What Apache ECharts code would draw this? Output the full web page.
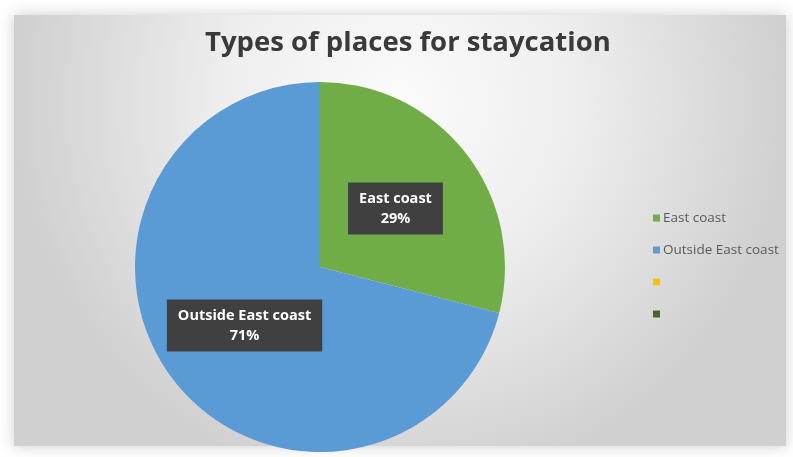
<!DOCTYPE html>
<html><head><meta charset="utf-8">
<script src="https://cdn.jsdelivr.net/npm/echarts@6/dist/echarts.min.js"></script>
<style>html,body{margin:0;padding:0;background:#fff}#c{width:793px;height:457px}</style>
</head><body><div id="c"></div>
<script>
const categories = ['East coast', 'Outside East coast', ' ', '  '];
const values = [29, 71, 0, 0];
const colors = ['#70AD47', '#5B9BD5', '#FFC000', '#43682B'];
const titleText = 'Types of places for staycation';

const chart = echarts.init(document.getElementById('c'));
const data = categories.map((n, i) => ({
  name: n, value: values[i], itemStyle: { color: colors[i] },
  label: { show: values[i] > 0 }
}));
chart.setOption({
  backgroundColor: '#ffffff',
  animation: false,
  graphic: [{
    type: 'rect', z: -10, silent: true,
    shape: { x: 14, y: 15, width: 772, height: 431 },
    style: {
      fill: new echarts.graphic.RadialGradient(0.5, 0.2, 0.9, [
        { offset: 0, color: '#fbfbfb' },
        { offset: 0.45, color: '#eeeeee' },
        { offset: 1, color: '#d0d0d0' }
      ]),
      shadowBlur: 14, shadowColor: 'rgba(0,0,0,0.2)'
    }
  }],
  title: {
    text: titleText, left: 200, top: 24,
    textStyle: { fontFamily: 'Open Sans', fontWeight: 'bold', fontSize: 27.5, color: '#3a3a3a' }
  },
  legend: {
    orient: 'vertical', left: 648, top: 206, itemGap: 18,
    itemWidth: 7, itemHeight: 7, icon: 'rect',
    data: categories,
    textStyle: { fontFamily: 'Open Sans', fontSize: 13.5, color: '#595959', padding: [0, 0, 0, -2] }
  },
  series: [{
    type: 'pie', center: [320, 267], radius: 185, startAngle: 90, clockwise: true,
    data: data,
    label: {
      position: 'inside',
      formatter: p => p.name + '\n' + Math.round(p.percent) + '%',
      backgroundColor: '#404040', color: '#ffffff',
      fontFamily: 'Open Sans', fontWeight: 'bold', fontSize: 14.5, lineHeight: 20,
      padding: [6, 11]
    },
    labelLine: { show: false },
    itemStyle: { borderWidth: 0 },
    emphasis: { disabled: true }
  }]
});
</script></body></html>
